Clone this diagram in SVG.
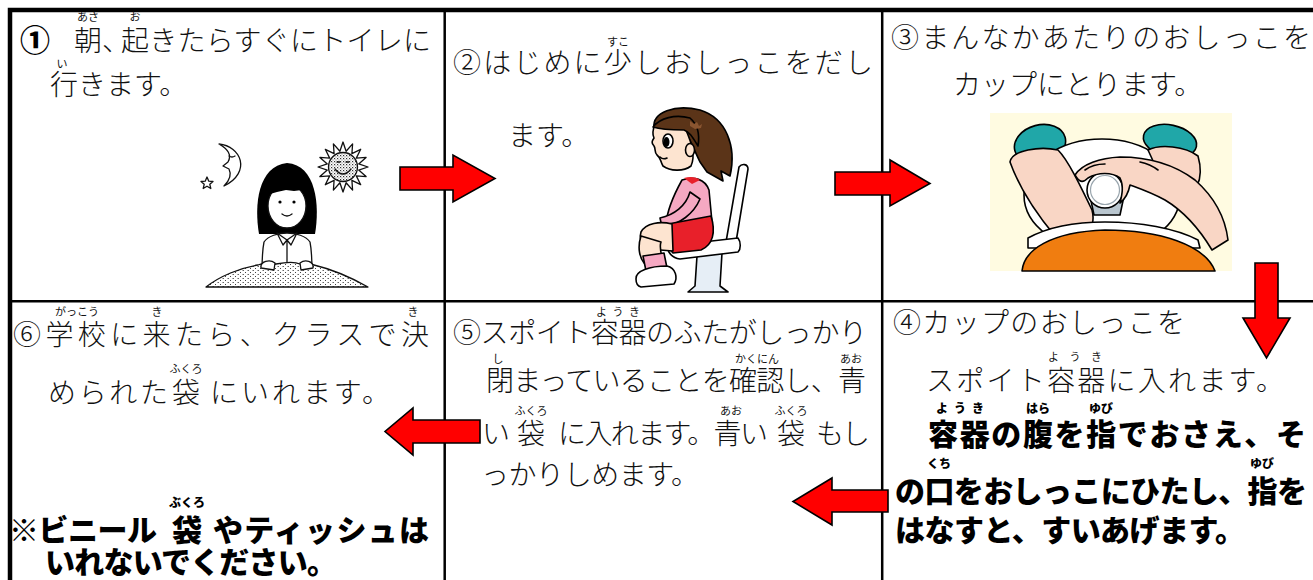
<svg xmlns="http://www.w3.org/2000/svg" width="1313" height="580" viewBox="0 0 1313 580">
  <defs>
    <style>
      .t { font-family: "Noto Sans CJK JP", "Noto Sans CJK SC", sans-serif; font-size: 28px; font-weight: 300; fill: #111; }
      .b { font-weight: 900; font-size: 30px; fill: #000; }
      .r { font-family: "Noto Sans CJK JP", "Noto Sans CJK SC", sans-serif; font-size: 11px; fill: #111; text-anchor: middle; }
      .rb { font-weight: 900; font-size: 12px; fill: #000; }
      .grid { fill: none; stroke: #000; }
      .arrow { fill: #ff0000; stroke: #000; stroke-width: 1.6; stroke-linejoin: miter; }
      .ln { stroke: #000; stroke-width: 1.6; stroke-linejoin: round; stroke-linecap: round; }
      .ln2 { stroke: #111; stroke-width: 1.3; stroke-linejoin: round; stroke-linecap: round; }
    </style>
    <pattern id="dotsDense" width="3" height="3" patternUnits="userSpaceOnUse">
      <rect width="3" height="3" fill="#fff"/>
      <rect width="1.2" height="1.2" fill="#333"/>
      <rect x="1.5" y="1.5" width="1" height="1" fill="#666"/>
    </pattern>
    <pattern id="dotsSparse" width="5" height="4" patternUnits="userSpaceOnUse">
      <rect width="5" height="4" fill="#fff"/>
      <rect width="1" height="1" fill="#444"/>
      <rect x="2.5" y="2" width="1.5" height="1" fill="#666"/>
    </pattern>
  </defs>

  <rect width="1313" height="580" fill="#fff"/>

  <!-- table frame -->
  <g id="frame">
    <rect class="grid" x="10" y="10" width="1310" height="580" stroke-width="4.5"/>
    <line class="grid" x1="444.7" y1="10" x2="444.7" y2="580" stroke-width="2.5"/>
    <line class="grid" x1="882.2" y1="10" x2="882.2" y2="580" stroke-width="2.5"/>
    <line class="grid" x1="10" y1="301.3" x2="1313" y2="301.3" stroke-width="2.5"/>
  </g>

  <!-- step 1 -->
  <g id="step1">
    <text class="t b" x="20" y="51" font-size="27">①</text>
    <text class="t" x="74" y="51">朝、</text>
    <text class="t" x="121" y="51" textLength="310" lengthAdjust="spacing">起きたらすぐにトイレに</text>
    <text class="r" x="88" y="21">あさ</text>
    <text class="r" x="135" y="21">お</text>
    <text class="t" x="50" y="95">行きます。</text>
    <text class="r" x="62" y="68">い</text>

    <g id="step1-art">
      <!-- moon -->
      <path class="ln2" fill="#fff" d="M219,144 C241,146 252,172 224,186 C231,179 231,173 229,169 L223,166 L228,162 C232,155 228,149 219,144 Z"/>
      <path class="ln2" fill="none" d="M229,156 q3,2 6,0"/>
      <!-- star -->
      <polygon class="ln2" fill="#fff" points="207,177 208.8,181.2 213,181.5 209.8,184.3 210.8,188.5 207,186.2 203.2,188.5 204.2,184.3 201,181.5 205.2,181.2"/>
      <!-- sun -->
      <g transform="translate(343,167)">
        <polygon class="ln2" fill="#fff" points="25,0 15.7,3.1 23.1,9.6 13.3,8.9 17.7,17.7 8.9,13.3 9.6,23.1 3.1,15.7 0,25 -3.1,15.7 -9.6,23.1 -8.9,13.3 -17.7,17.7 -13.3,8.9 -23.1,9.6 -15.7,3.1 -25,0 -15.7,-3.1 -23.1,-9.6 -13.3,-8.9 -17.7,-17.7 -8.9,-13.3 -9.6,-23.1 -3.1,-15.7 0,-25 3.1,-15.7 9.6,-23.1 8.9,-13.3 17.7,-17.7 13.3,-8.9 23.1,-9.6 15.7,-3.1"/>
        <circle class="ln2" r="14.5" fill="url(#dotsDense)"/>
        <path class="ln2" fill="none" d="M-8,2 q8,10 16,0"/>
        <path class="ln2" fill="none" d="M-6,-5 l3,0 M3,-5 l3,0"/>
      </g>
      <!-- girl -->
      <path fill="#000" d="M259,234 C254,205 258,166 287,163 C316,165 320,205 315,234 Z"/>
      <ellipse class="ln2" cx="287" cy="206" rx="19" ry="22" fill="#fff"/>
      <path fill="#000" d="M266,204 C264,182 274,170 287,170 C301,170 310,182 308,204 C305,196 303,192 302,190 L294,191 L286,190 L277,192 L270,194 Z"/>
      <circle cx="280" cy="202" r="1.6" fill="#000"/>
      <circle cx="294" cy="202" r="1.6" fill="#000"/>
      <path class="ln2" fill="none" d="M282,214 q5,4 10,0"/>
      <path class="ln2" fill="#fff" d="M264,242 C268,236 278,233 287,233 C296,233 306,236 310,242 C312,252 312,262 312,272 L262,272 C262,262 262,252 264,242 Z"/>
      <path class="ln2" fill="#fff" d="M277,233 L287,240 L283,245 Z M297,233 L287,240 L291,245 Z"/>
      <line class="ln2" x1="287" y1="240" x2="287" y2="266"/>
      <!-- blanket mound -->
      <path class="ln2" fill="url(#dotsSparse)" d="M206,287 C220,276 240,268 258,265 C265,262 272,262 276,264 C286,262 296,262 300,264 C304,262 310,262 314,265 C335,270 352,278 368,287 Z"/>
      <path class="ln2" fill="#fff" d="M261,268 C260,261 270,259 275,263 L274,270 Z"/>
      <path class="ln2" fill="#fff" d="M300,263 C305,259 314,261 313,268 L301,270 Z"/>
    </g>
  </g>

  <!-- step 2 -->
  <g id="step2">
    <text class="t" x="453" y="73" textLength="420" lengthAdjust="spacing">②はじめに少しおしっこをだし</text>
    <text class="r" x="618" y="46">すこ</text>
    <text class="t" x="508" y="146">ます。</text>

    <g id="step2-art">
      <!-- toilet back -->
      <path class="ln" fill="#fff" d="M739,167 C742,163 748,164 748,169 L736,242 L726,242 Z"/>
      <!-- toilet base -->
      <path class="ln" fill="#e6eef6" d="M697,256 L722,253 L720,286 L728,292 L688,292 L695,286 Z"/>
      <!-- seat -->
      <path class="ln" fill="#fff" d="M668,246 L738,238 C741,242 741,249 738,252 L680,259 C672,258 667,252 668,246 Z"/>
      <!-- hair back -->
      <path class="ln" fill="#5b3418" d="M654,128 C652,112 675,104 700,110 C726,118 737,146 730,176 L721,171 L723,181 L707,172 L700,162 C694,150 690,138 684,130 Z"/>
      <!-- face -->
      <path class="ln" fill="#fde4d0" d="M655,124 C665,127 678,126 686,130 C691,142 696,155 691,166 C683,172 670,171 663,166 C660,161 661,158 657,155 C654,152 656,149 654,146 C651,143 652,141 654,138 C652,134 653,129 655,124 Z"/>
      <path class="ln" fill="#5b3418" d="M653,127 C660,118 675,114 690,118 C697,124 700,134 698,146 C693,138 690,132 684,130 C672,130 662,130 653,127 Z"/>
      <path fill="#8a5530" d="M690,121 l4,3 l3,-2 l2,4 l3,-2 l-1,4 l-6,1 l-5,-3 Z"/>
      <ellipse class="ln" cx="668" cy="141" rx="5" ry="7" fill="#fff"/>
      <ellipse cx="666.5" cy="142" rx="3" ry="5" fill="#000"/>
      <path class="ln" fill="none" d="M660,157 q3,3 7,1"/>
      <ellipse class="ln" cx="690" cy="150" rx="4.5" ry="6.5" fill="#fde4d0"/>
      <!-- sweater -->
      <path class="ln" fill="#f5a8c2" d="M682,180 C694,176 705,179 709,190 L712,222 L676,227 L666,224 C667,212 672,198 682,180 Z"/>
      <path fill="#e8202a" d="M684,178 C690,176 697,177 700,180 L692,184 Z"/>
      <path class="ln" fill="#f5a8c2" d="M690,192 C686,206 674,215 660,218 L662,227 C680,225 694,213 700,199 Z"/>
      <!-- skirt -->
      <path class="ln" fill="#e8202a" d="M668,224 L711,216 C716,232 713,245 701,250 L673,253 C666,246 664,234 668,224 Z"/>
      <!-- legs -->
      <path class="ln" fill="#fde4d0" d="M672,224 C660,221 646,223 641,232 C638,242 645,250 660,250 L673,251 Z"/>
      <path class="ln" fill="#fde4d0" d="M641,236 C637,248 640,258 644,263 L663,261 C661,254 659,247 661,242 Z"/>
      <path class="ln" fill="#f5a8c2" d="M643,256 L664,253 L667,268 L646,271 Z"/>
      <path class="ln" fill="#fff" d="M636,279 C635,271 650,266 667,266 C676,268 678,278 674,284 L641,287 C637,286 636,283 636,279 Z"/>
    </g>
  </g>

  <!-- step 3 -->
  <g id="step3">
    <text class="t" x="891" y="48" textLength="420" lengthAdjust="spacing">③まんなかあたりのおしっこを</text>
    <text class="t" x="953" y="95">カップにとります。</text>

    <g id="step3-art">
      <rect x="990" y="113" width="242" height="158" fill="#fffbe1"/>
      <!-- knees -->
      <ellipse class="ln" cx="1040" cy="144" rx="26" ry="19" transform="rotate(-15 1040 144)" fill="#20a7a8"/>
      <ellipse class="ln" cx="1170" cy="141" rx="27" ry="16" transform="rotate(12 1170 141)" fill="#20a7a8"/>
      <!-- bowl -->
      <ellipse class="ln" cx="1102" cy="195" rx="78" ry="56" fill="#fff"/>
      <!-- thighs -->
      <path class="ln" fill="#f9d6c5" d="M1010,162 C1012,150 1040,146 1058,150 C1068,160 1080,185 1092,210 C1096,225 1088,238 1072,240 L1055,236 C1040,218 1020,190 1010,162 Z"/>
      <path class="ln" fill="#f9d6c5" d="M1148,150 C1160,144 1185,146 1198,156 C1202,170 1200,180 1197,186 L1160,176 Z"/>
      <!-- cup -->
      <path class="ln" fill="#b9c6cf" d="M1090,196 L1124,196 L1120,215 L1094,215 Z"/>
      <circle class="ln" cx="1105" cy="190" r="18" fill="#fff"/>
      <circle cx="1105" cy="190" r="14.5" fill="none" stroke="#9aa6ae" stroke-width="1.2"/>
      <!-- hand -->
      <path class="ln" fill="#f9d6c5" d="M1075,175 C1082,164 1100,158 1120,157 C1150,157 1175,165 1195,180 C1212,195 1225,215 1228,240 L1212,250 C1200,230 1185,212 1165,200 C1150,192 1138,188 1130,185 C1128,195 1124,200 1120,203 C1122,195 1124,186 1120,178 C1112,172 1098,172 1088,178 C1084,182 1080,184 1075,175 Z"/>
      <path class="ln" fill="none" d="M1085,170 q8,-6 20,-6 M1140,162 q10,2 18,8"/>
      <!-- shirt -->
      <path class="ln" fill="#fff" d="M1028,238 C1050,226 1080,222 1105,222 C1140,222 1175,228 1198,240 L1200,248 L1028,248 Z"/>
      <path class="ln" fill="#f07d10" d="M1022,271 C1024,250 1050,232 1105,230 C1160,230 1205,245 1215,271 Z"/>
    </g>
  </g>

  <!-- step 4 -->
  <g id="step4">
    <text class="t" x="893" y="333" textLength="292" lengthAdjust="spacing">④カップのおしっこを</text>
    <text class="t" x="926" y="391" textLength="358" lengthAdjust="spacing">スポイト容器に入れます。</text>
    <text class="r" x="1075" y="361" textLength="54" lengthAdjust="spacing">ようき</text>
    <text class="t b" x="928" y="445" textLength="378" lengthAdjust="spacing">容器の腹を指でおさえ、そ</text>
    <text class="r rb" x="960" y="413" textLength="48" lengthAdjust="spacing">ようき</text>
    <text class="r rb" x="1038" y="413">はら</text>
    <text class="r rb" x="1101" y="413">ゆび</text>
    <text class="t b" x="895" y="502" textLength="412" lengthAdjust="spacing">の口をおしっこにひたし、指を</text>
    <text class="r rb" x="939" y="468">くち</text>
    <text class="r rb" x="1262" y="468">ゆび</text>
    <text class="t b" x="895" y="541" textLength="350" lengthAdjust="spacing">はなすと、すいあげます。</text>
  </g>

  <!-- step 5 -->
  <g id="step5">
    <text class="t" x="453" y="343" textLength="414" lengthAdjust="spacing">⑤スポイト容器のふたがしっかり</text>
    <text class="r" x="618" y="316" textLength="44" lengthAdjust="spacing">ようき</text>
    <text class="t" x="486" y="391" textLength="380" lengthAdjust="spacing">閉まっていることを確認し、青</text>
    <text class="r" x="498" y="363">し</text>
    <text class="r" x="757" y="363">かくにん</text>
    <text class="r" x="851" y="363">あお</text>
    <text class="t" y="444"><tspan x="482">い</tspan><tspan x="517">袋</tspan><tspan x="558" textLength="210" lengthAdjust="spacing">に入れます。青い</tspan><tspan x="777">袋</tspan><tspan x="816" textLength="54" lengthAdjust="spacing">もし</tspan></text>
    <text class="r" x="531" y="415">ふくろ</text>
    <text class="r" x="731" y="415">あお</text>
    <text class="r" x="791" y="415">ふくろ</text>
    <text class="t" x="481" y="485" textLength="218" lengthAdjust="spacing">っかりしめます。</text>
  </g>

  <!-- step 6 -->
  <g id="step6">
    <text class="t" x="13" y="345" textLength="416" lengthAdjust="spacing">⑥学校に来たら、クラスで決</text>
    <text class="r" x="77" y="316">がっこう</text>
    <text class="r" x="157" y="316">き</text>
    <text class="r" x="413" y="316">き</text>
    <text class="t" y="403"><tspan x="48" textLength="120" lengthAdjust="spacing">められた</tspan><tspan x="172">袋</tspan><tspan x="210" textLength="180" lengthAdjust="spacing">にいれます。</tspan></text>
    <text class="r" x="186" y="373">ふくろ</text>
    <text class="t b" y="541"><tspan x="9" textLength="148" lengthAdjust="spacing">※ビニール</tspan><tspan x="172">袋</tspan><tspan x="213" textLength="216" lengthAdjust="spacing">やティッシュは</tspan></text>
    <text class="r rb" x="187" y="507">ぶくろ</text>
    <text class="t b" x="45" y="573" font-size="29" textLength="292" lengthAdjust="spacing">いれないでください。</text>
  </g>

  <!-- arrows between the steps -->
  <g id="connectors">
    <polygon class="arrow" points="400,167 453,167 453,155 495,178.5 453,202 453,190 400,190"/>
    <polygon class="arrow" points="835,172 890,172 890,160 930,183.5 890,206 890,195 835,195"/>
    <polygon class="arrow" points="1255,263 1278,263 1278,318 1290,318 1266.5,358 1243,318 1255,318"/>
    <polygon class="arrow" points="888,490 832,490 832,478 793,501.5 832,525 832,512 888,512"/>
    <polygon class="arrow" points="480,420 413,420 413,408 385,431.5 413,455 413,443 480,443"/>
  </g>
</svg>
